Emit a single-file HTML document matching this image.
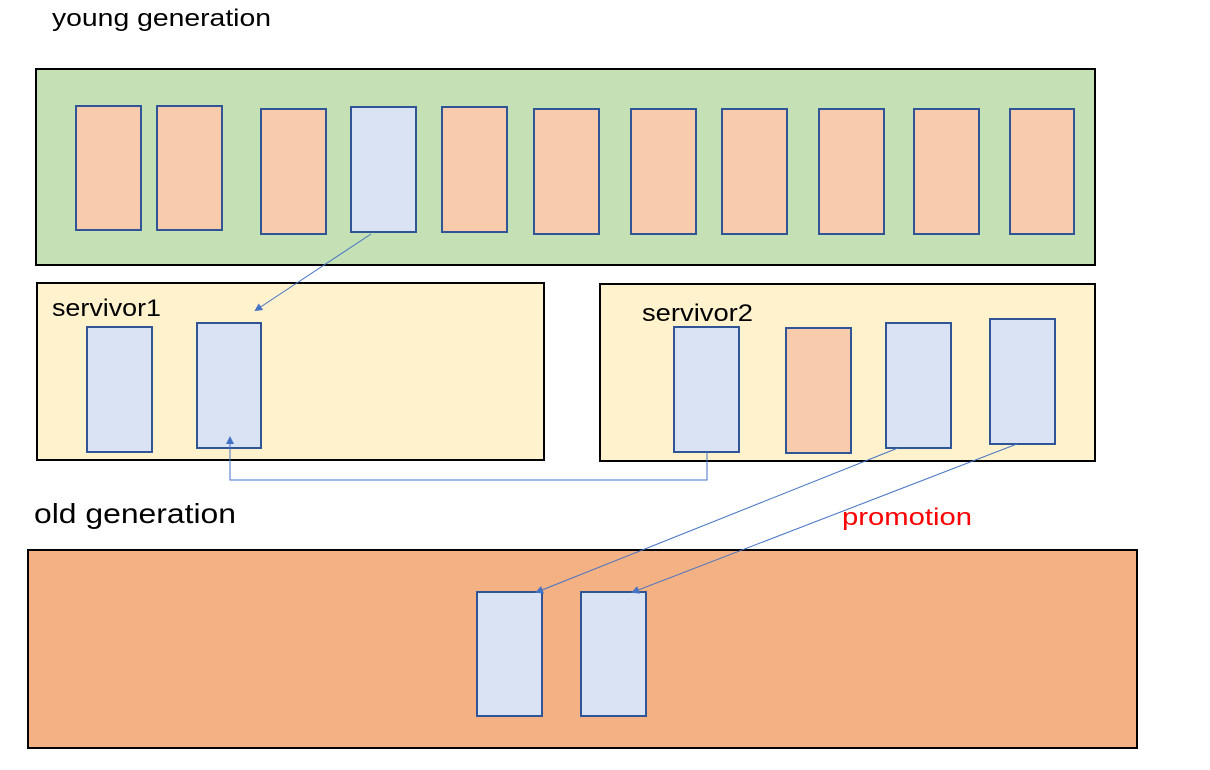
<!DOCTYPE html>
<html><head><meta charset="utf-8"><style>body{margin:0;background:#fff}svg{display:block}text{font-family:"Liberation Sans","NanumGothic",sans-serif}</style></head><body>
<svg width="1210" height="770" viewBox="0 0 1210 770" xmlns="http://www.w3.org/2000/svg">
<defs><marker id="a" markerWidth="8" markerHeight="8" refX="6" refY="4" orient="auto" markerUnits="userSpaceOnUse"><path d="M0,0 L8,4 L0,8 z" fill="#4472c4"/></marker></defs>
<text x="52" y="26" font-size="24" textLength="219" lengthAdjust="spacingAndGlyphs">young generation</text>
<rect x="36" y="69" width="1059" height="196" fill="#c5e0b4" stroke="#000" stroke-width="2"/>
<g stroke="#2f5597" stroke-width="2" fill="#f8cbad">
<rect x="76" y="106" width="65" height="124"/>
<rect x="157" y="106" width="65" height="124"/>
<rect x="261" y="109" width="65" height="125"/>
<rect x="351" y="107" width="65" height="125" fill="#dae3f3"/>
<rect x="442" y="107" width="65" height="125"/>
<rect x="534" y="109" width="65" height="125"/>
<rect x="631" y="109" width="65" height="125"/>
<rect x="722" y="109" width="65" height="125"/>
<rect x="819" y="109" width="65" height="125"/>
<rect x="914" y="109" width="65" height="125"/>
<rect x="1010" y="109" width="64" height="125"/>
</g>
<rect x="37" y="283" width="507" height="177" fill="#fff2cc" stroke="#000" stroke-width="2"/>
<rect x="600" y="284" width="495" height="177" fill="#fff2cc" stroke="#000" stroke-width="2"/>
<text x="52" y="316" font-size="24" textLength="109" lengthAdjust="spacingAndGlyphs">servivor1</text>
<text x="642" y="321" font-size="24" textLength="111" lengthAdjust="spacingAndGlyphs">servivor2</text>
<g stroke="#2f5597" stroke-width="2" fill="#dae3f3">
<rect x="87" y="327" width="65" height="125"/>
<rect x="197" y="323" width="64" height="125"/>
<rect x="674" y="327" width="65" height="125"/>
<rect x="786" y="328" width="65" height="125" fill="#f8cbad"/>
<rect x="886" y="323" width="65" height="125"/>
<rect x="990" y="319" width="65" height="125"/>
</g>
<text x="34" y="523" font-size="28" textLength="202" lengthAdjust="spacingAndGlyphs">old generation</text>
<text x="842" y="525" font-size="24" fill="#ff0000" textLength="130" lengthAdjust="spacingAndGlyphs">promotion</text>
<rect x="28" y="550" width="1109" height="198" fill="#f4b183" stroke="#000" stroke-width="2"/>
<g stroke="#2f5597" stroke-width="2" fill="#dae3f3">
<rect x="477" y="592" width="65" height="124"/>
<rect x="581" y="592" width="65" height="124"/>
</g>
<g stroke="#4472c4" stroke-width="1" fill="none" marker-end="url(#a)">
<line x1="371" y1="234" x2="256" y2="310"/>
<polyline points="707,452 707,480 230,480 230,438"/>
<line x1="898" y1="448" x2="537" y2="592"/>
<line x1="1017" y1="444" x2="633" y2="592"/>
</g>
</svg>
</body></html>
